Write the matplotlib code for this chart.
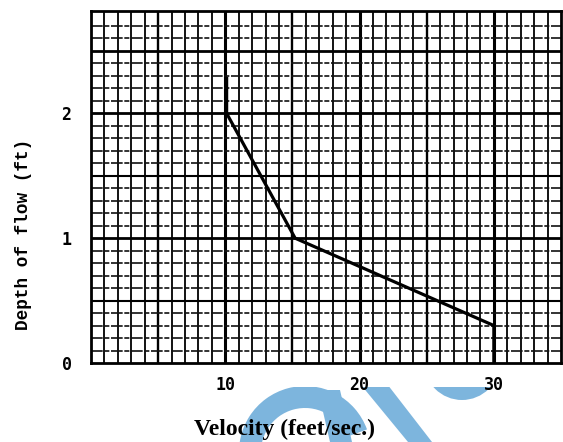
import numpy as np
import matplotlib.pyplot as plt
from matplotlib.patches import Wedge, Polygon, Rectangle

# Velocity profile
velocity = [30.0, 30.0, 15.2, 10.1, 10.1]
depth = [0.0, 0.3, 1.0, 2.0, 2.28]

x_ticks = [10, 20, 30]
y_ticks = [0, 1, 2]
x_max = 35
y_max = 2.82

fig = plt.figure(figsize=(5.63, 4.42), dpi=100)
ax = fig.add_axes([91/563, 79/442, 470/563, 352/442])

# graph paper: vertical lines every 1 ft/s, horizontal every 0.1 ft
for v in np.arange(1, x_max):
    if v % 10 == 0:
        lw = 2.2
    elif v % 5 == 0:
        lw = 1.7
    else:
        lw = 1.3
    ax.axvline(v, color='black', lw=lw, zorder=1)

for h in np.arange(1, 28) / 10:
    k = int(round(h * 10))
    if k % 10 == 0 or k == 25:
        ax.axhline(h, color='black', lw=2.0, zorder=1)
    elif k % 5 == 0:
        ax.axhline(h, color='black', lw=1.5, zorder=1)
    else:
        ax.axhline(h, color='#111111', lw=1.2, ls=(0, (7, 1.0, 3, 1.0)), zorder=1)

ax.plot(velocity, depth, color='black', lw=2.3, zorder=3, solid_joinstyle='miter')

ax.set_xlim(0, x_max)
ax.set_ylim(0, y_max)
for s in ax.spines.values():
    s.set_linewidth(2.0)

ax.set_xticks(x_ticks)
ax.set_yticks(y_ticks)
ax.tick_params(axis='x', length=0, pad=9)
ax.tick_params(axis='y', length=0, pad=14)
for lab in ax.get_xticklabels() + ax.get_yticklabels():
    lab.set_fontfamily('DejaVu Sans Mono')
    lab.set_fontweight('bold')
    lab.set_fontsize(12)

ax.set_ylabel('Depth of flow (ft)', family='Liberation Mono', fontweight='bold',
              fontsize=12.8)
ax.yaxis.set_label_coords(-0.1255, 0.364)
fig.text(285/563, 1 - 429/442, 'Velocity (feet/sec.)', family='Liberation Serif',
         fontweight='bold', fontsize=17, ha='center', va='center')

# light blue watermark under the lower caption (pixel positions -> inches)
wm = '#7DB5DD'
H = 442
px = lambda x, y: (x / 100, (H - y) / 100)
clip = Rectangle((0, 0), 5.63, (H - 387) / 100, transform=fig.dpi_scale_trans, visible=False)
fig.add_artist(clip)
shapes = [
    Wedge(px(305, 452), 0.66, 20, 360, width=0.22),
    Polygon([px(357, 380), px(384, 380), px(432, 442), px(408, 442)]),
    Polygon([px(318, 390), px(340, 390), px(352, 442), px(330, 442)]),
    Wedge(px(462, 362), 0.38, 180, 360, width=0.3),
]
for p in shapes:
    p.set_transform(fig.dpi_scale_trans)
    p.set_facecolor(wm)
    p.set_edgecolor('none')
    p.set_zorder(-5)
    fig.add_artist(p)
    p.set_clip_path(clip)

fig.savefig('out.png', dpi=100)
